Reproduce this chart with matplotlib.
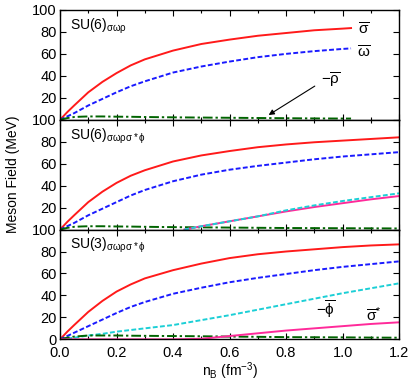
import numpy as np
import matplotlib.pyplot as plt

plt.rcParams['font.family'] = ['Liberation Sans', 'DejaVu Sans']
plt.rcParams['mathtext.fontset'] = 'custom'
plt.rcParams['mathtext.rm'] = 'Liberation Sans'
plt.rcParams['mathtext.it'] = 'Liberation Sans'
plt.rcParams['mathtext.bf'] = 'Liberation Sans:bold'

# --- data (n_B in fm^-3, fields in MeV) ---
nb_top = [0, 0.025, 0.05, 0.075, 0.1, 0.15, 0.2, 0.25, 0.3, 0.4, 0.5, 0.6, 0.7, 0.8, 0.9, 1.0, 1.03]
sigma_top = [0, 6.8, 13, 19, 25, 34.5, 42.5, 49.5, 55, 63, 69, 73, 76.5, 79, 81.5, 83, 83.5]
omega_top = [0, 3, 6, 9.5, 13, 19, 25, 30.5, 35, 43, 48.5, 53, 57, 60, 62.5, 64.5, 65]
rho_top = [0, 1.5, 2.5, 2.8, 3, 3, 2.8, 2.7, 2.5, 2.2, 2, 1.8, 1.6, 1.4, 1.2, 1.1, 1.1]

nb = [0, 0.025, 0.05, 0.075, 0.1, 0.15, 0.2, 0.25, 0.3, 0.4, 0.5, 0.6, 0.7, 0.8, 0.9, 1.0, 1.1, 1.2]
sigma_mid = [0, 6.8, 13, 19, 25, 34.5, 42.5, 49, 54, 62, 67.5, 71.5, 75, 77.5, 79.5, 81, 82.5, 84]
omega_mid = [0, 3, 6, 9.5, 13, 19, 25, 31, 36, 44, 50, 54.5, 58, 61, 64, 66.5, 68.5, 70.5]
rho_mid = [0, 1.5, 2.5, 2.8, 3, 3, 2.8, 2.7, 2.5, 2.2, 2, 1.8, 1.6, 1.4, 1.3, 1.2, 1.1, 1]
nb_strange_mid = [0.44, 0.5, 0.6, 0.7, 0.8, 0.9, 1.0, 1.1, 1.2]
phi_mid = [0, 3, 7.5, 12, 17.5, 22, 26, 29.5, 33]
sstar_mid = [0, 3, 7.5, 12, 16.5, 20.5, 24, 27.5, 30.5]

sigma_bot = [0, 6.8, 13, 19, 25, 35, 43.5, 50, 55.5, 63, 69, 74, 77.5, 80, 82, 84, 85.5, 86.5]
omega_bot = [0, 3, 6, 9, 12, 18, 24, 29.5, 34, 41.5, 47, 52, 56, 59.5, 63, 66, 68.5, 71]
rho_bot = [0, 1.5, 2.5, 3, 3.5, 3.5, 3.5, 3.3, 3.2, 3, 2.8, 2.5, 2.3, 2, 1.9, 1.8, 1.6, 1.5]
phi_bot = [0, 0.7, 1.5, 2.5, 3.5, 5, 7, 8.5, 10, 13, 17.5, 22, 27, 32, 37, 42, 46.5, 51]
sstar_bot = [0, 0, 0, 0, 0, 0, 0, 0, 0, 0, 0.5, 3, 5.5, 8, 10, 12, 14, 15.5]

panel_labels = [r'SU(6)$_{\sigma\omega\rho}$',
                r'SU(6)$_{\sigma\omega\rho\sigma*\phi}$',
                r'SU(3)$_{\sigma\omega\rho\sigma*\phi}$']

red = '#ff1a1a'
blue = '#1a1aff'
green = '#006400'
cyan = '#1ccfd6'
pink = '#ff2a9a'
dash = (0, (2.5, 1.2))
dashdot = (0, (5, 1.5, 1.2, 1.5))

fig, axes = plt.subplots(3, 1, figsize=(4.17, 3.83), dpi=100, sharex=True)
fig.subplots_adjust(left=0.144, right=0.957, bottom=0.114, top=0.974, hspace=0)
ax1, ax2, ax3 = axes

ax1.plot(nb_top, sigma_top, color=red, lw=1.4)
ax1.plot(nb_top, omega_top, color=blue, lw=1.4, linestyle=dash)
ax1.plot(nb_top, rho_top, color=green, lw=1.4, linestyle=dashdot)

ax2.plot(nb, sigma_mid, color=red, lw=1.4)
ax2.plot(nb, omega_mid, color=blue, lw=1.4, linestyle=dash)
ax2.plot(nb, rho_mid, color=green, lw=1.4, linestyle=dashdot)
ax2.plot(nb_strange_mid, sstar_mid, color=pink, lw=1.4)
ax2.plot(nb_strange_mid, phi_mid, color=cyan, lw=1.4, linestyle=dash)

ax3.plot(nb, sigma_bot, color=red, lw=1.4)
ax3.plot(nb, omega_bot, color=blue, lw=1.4, linestyle=dash)
ax3.plot(nb, phi_bot, color=cyan, lw=1.4, linestyle=dash)
ax3.plot(nb, rho_bot, color=green, lw=1.4, linestyle=dashdot)
ax3.plot(nb, sstar_bot, color=pink, lw=1.4)

for i, ax in enumerate(axes):
    ax.set_xlim(0, 1.2)
    ax.set_ylim(0, 100)
    ax.set_yticks([0, 20, 40, 60, 80, 100])
    if i < 2:
        ax.set_yticklabels(['', '20', '40', '60', '80', '100'])
    ax.set_xticks(np.arange(0, 1.21, 0.2))
    ax.set_xticks(np.arange(0, 1.21, 0.1), minor=True)
    ax.tick_params(which='both', direction='in', top=True, right=True, labelsize=10.5)
    ax.tick_params(which='major', length=4.5, width=0.8)
    ax.tick_params(which='minor', length=2.5, width=0.8)
    ax.tick_params(axis='y', pad=2.5)
    ax.tick_params(axis='x', pad=5)
    for s in ax.spines.values():
        s.set_linewidth(1.0)
    ax.text(0.03, 0.94, panel_labels[i], transform=ax.transAxes,
            ha='left', va='top', fontsize=10)

ax3.xaxis.set_major_formatter(plt.FormatStrFormatter('%.1f'))

# annotations
ax1.text(1.075, 82, r'$\overline{\mathrm{\sigma}}$', fontsize=11, ha='center', va='center')
ax1.text(1.075, 61, r'$\overline{\mathrm{\omega}}$', fontsize=11, ha='center', va='center')
ax1.text(0.96, 36, r'$-\overline{\mathrm{\rho}}$', fontsize=11, ha='center', va='center')
ax1.annotate('', xy=(0.73, 3), xytext=(0.91, 32),
             arrowprops=dict(arrowstyle='-|>', color='black', lw=0.8,
                             mutation_scale=8))
ax3.text(0.94, 27, r'$-\overline{\mathrm{\phi}}$', fontsize=11, ha='center', va='center')
ax3.text(1.11, 23, r'$\overline{\mathrm{\sigma}}^{*}$', fontsize=11, ha='center', va='center')

fig.text(0.03, 0.544, 'Meson Field (MeV)', rotation=90, ha='center', va='center', fontsize=10)
ax3.set_xlabel(r'n$_\mathrm{B}$ (fm$^{-3}$)', fontsize=10, labelpad=0)

fig.savefig('out.png', dpi=100)
